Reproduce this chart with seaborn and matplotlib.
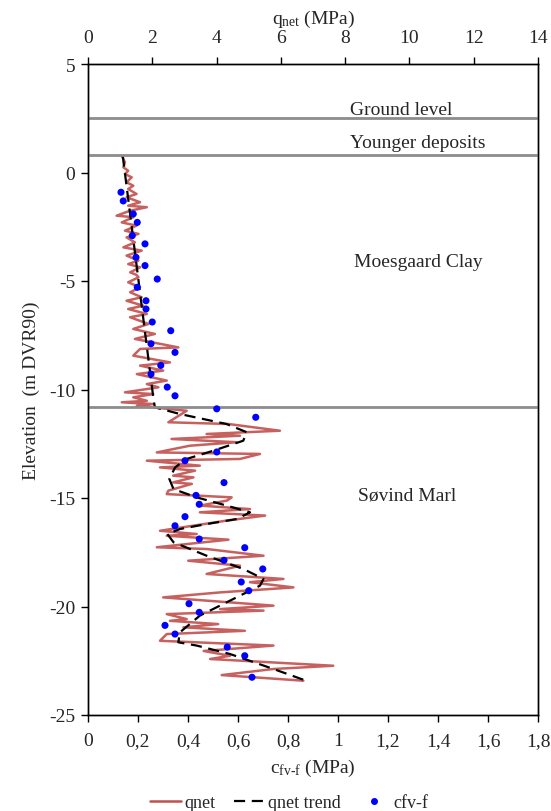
import numpy as np
import pandas as pd
import matplotlib
matplotlib.use("Agg")
import matplotlib.pyplot as plt
import seaborn as sns
from matplotlib.lines import Line2D

# ---------------- data ----------------
qnet_elev = [0.77, 0.47, 0.24, 0.08, -0.07, -0.22, -0.45, -0.61, -0.76, -0.99, -1.14, -1.37, -1.53, -1.60,
             -1.76, -1.99, -2.06, -2.30, -2.45, -2.68, -2.83, -2.99, -3.22, -3.45, -3.60, -3.83, -4.06,
             -4.22, -4.37, -4.60, -4.72, -4.83, -5.06, -5.29, -5.52, -5.75, -5.91, -6.14, -6.29, -6.52,
             -6.67, -6.98, -7.21, -7.44, -7.67, -8.06, -8.13, -8.44, -8.75, -8.90, -9.13, -9.29, -9.59,
             -9.75, -9.90, -10.13, -10.21, -10.36, -10.52, -10.59, -10.67, -10.75, -10.98, -11.51, -11.59,
             -11.90, -12.05, -12.13, -12.28, -12.43, -12.59, -12.90, -12.97, -13.20, -13.28, -13.51, -13.59,
             -13.74, -13.97, -14.05, -14.28, -14.35, -14.66, -14.82, -14.97, -15.12, -15.35, -15.51, -15.66,
             -15.81, -16.04, -16.51, -16.66, -16.74, -16.92, -17.27, -17.35, -17.66, -17.89, -18.12, -18.50,
             -18.73, -18.88, -19.12, -19.35, -19.58, -19.96, -20.12, -20.19, -20.35, -20.58, -20.66, -20.81,
             -20.96, -21.12, -21.27, -21.58, -21.80, -22.05, -22.27, -22.42, -22.73, -22.88, -23.16, -23.42]
qnet_val = [1.05, 1.15, 1.10, 1.25, 1.15, 1.36, 1.20, 1.41, 1.25, 1.51, 1.20, 1.62, 1.25, 1.83,
            1.31, 0.89, 1.41, 1.05, 1.51, 1.15, 1.57, 1.20, 1.46, 1.10, 1.67, 1.20, 1.57,
            1.25, 1.62, 1.31, 1.51, 1.57, 1.25, 1.62, 1.31, 1.67, 1.20, 1.72, 1.25, 1.83,
            1.31, 1.88, 1.41, 2.08, 1.46, 2.81, 1.62, 1.41, 2.55, 1.62, 2.34, 1.52, 2.45,
            1.83, 2.19, 1.15, 2.03, 1.41, 1.83, 1.05, 2.03, 1.52, 3.07, 2.50, 4.37,
            5.97, 3.69, 4.73, 2.60, 4.63, 3.17, 2.14, 5.35, 4.73, 1.83, 3.48, 2.24,
            3.33, 2.65, 3.28, 2.65, 3.23, 2.50, 2.45, 4.47, 4.32, 3.48, 5.04, 3.48,
            5.51, 4.32, 2.24, 3.38, 2.45, 4.37, 2.14, 3.69, 5.46, 3.12, 4.73, 3.69,
            6.08, 5.04, 6.39, 4.11, 2.34, 5.77, 4.11, 5.46, 2.45, 3.07, 2.55, 4.05,
            2.97, 4.88, 2.45, 2.24, 5.77, 3.60, 4.42, 3.80, 7.63, 5.77, 4.16, 6.70]

trend_elev = [0.78, -10.36, -10.82, -11.13, -11.59, -11.97, -12.36, -12.82, -13.20, -13.59, -14.12, -14.59,
              -14.97, -15.35, -15.66, -15.97, -16.20, -16.43, -16.66, -17.04, -17.66, -18.27, -18.73,
              -19.04, -19.81, -20.42, -21.19, -21.65, -21.80, -22.19, -22.88, -23.46]
trend_val = [1.08, 2.03, 2.08, 2.86, 4.31, 4.94, 4.83, 3.90, 3.07, 2.71, 2.53, 2.66,
             3.38, 4.31, 5.04, 4.63, 3.69, 2.86, 2.47, 2.66, 3.69, 4.83, 5.46,
             5.35, 4.31, 3.48, 2.86, 2.81, 3.38, 4.42, 5.77, 6.86]

cfv_elev = [-0.91, -1.31, -1.91, -2.30, -2.91, -3.29, -3.91, -4.29, -4.91, -5.29, -5.91, -6.29,
            -6.89, -7.29, -7.89, -8.29, -8.89, -9.29, -9.89, -10.29, -10.89, -11.28, -12.88, -13.28,
            -14.29, -14.88, -15.29, -15.86, -16.28, -16.89, -17.29, -17.87, -18.27, -18.87, -19.27,
            -19.87, -20.27, -20.87, -21.27, -21.87, -22.27, -23.26]
cfv_val = [0.132, 0.141, 0.181, 0.197, 0.177, 0.228, 0.192, 0.228, 0.277, 0.197, 0.232, 0.232,
           0.257, 0.331, 0.252, 0.348, 0.291, 0.252, 0.317, 0.348, 0.515, 0.671, 0.515, 0.388,
           0.544, 0.432, 0.445, 0.388, 0.348, 0.445, 0.627, 0.544, 0.699, 0.613, 0.643,
           0.404, 0.445, 0.308, 0.348, 0.557, 0.627, 0.656]

layer_bounds = [2.5, 0.8, -10.8]
layer_names = ["Ground level", "Younger deposits", "Moesgaard Clay", "Søvind Marl"]
layer_label_pos = [(1.048, 2.92), (1.048, 1.36), (1.064, -4.1), (1.08, -14.85)]

bottom_ticks = [0, 0.2, 0.4, 0.6, 0.8, 1.0, 1.2, 1.4, 1.6, 1.8]
bottom_ticklabels = ["0", "0,2", "0,4", "0,6", "0,8", "1", "1,2", "1,4", "1,6", "1,8"]
top_ticks = [0, 2, 4, 6, 8, 10, 12, 14]
y_ticks = [-25, -20, -15, -10, -5, 0, 5]

# ---------------- style ----------------
sns.set_theme(style="white")
plt.rcParams["font.family"] = ["Liberation Serif", "DejaVu Serif"]
plt.rcParams["mathtext.fontset"] = "custom"
plt.rcParams["mathtext.rm"] = "Liberation Serif"
plt.rcParams["mathtext.it"] = "Liberation Serif:italic"
FS = 14

fig = plt.figure(figsize=(5.51, 8.12), dpi=100)
ax = fig.add_axes([88 / 551, 1 - 716 / 812, 450 / 551, 651 / 812])
ax2 = ax.twiny()

red = "#C0504D"
qdf = pd.DataFrame({"elev": qnet_elev, "q": qnet_val})
tdf = pd.DataFrame({"elev": trend_elev, "q": trend_val})
cdf = pd.DataFrame({"elev": cfv_elev, "c": cfv_val})

for yb in layer_bounds:
    ax.axhline(yb, color="#8C8C8C", lw=2, zorder=1)

sns.lineplot(data=qdf, x="q", y="elev", sort=False, estimator=None, ax=ax2,
             color=red, lw=1.8, alpha=0.9, zorder=2)
sns.lineplot(data=tdf, x="q", y="elev", sort=False, estimator=None, ax=ax2,
             color="black", lw=1.6, zorder=3)
ax2.lines[-1].set_dashes([5, 3])
sns.scatterplot(data=cdf, x="c", y="elev", ax=ax, color="#0000FF", s=26,
                edgecolor="none", zorder=4)
ax.set_zorder(ax2.get_zorder() + 1)
ax.patch.set_visible(False)

ax.set_xlim(0, 1.8)
ax.set_ylim(-25, 5)
ax2.set_xlim(0, 14)
ax2.set_ylim(-25, 5)

ax.set_xticks(bottom_ticks)
ax.set_xticklabels(bottom_ticklabels, fontsize=FS)
ax.set_yticks(y_ticks)
ax.set_yticklabels([str(t) for t in y_ticks], fontsize=FS)
ax2.set_xticks(top_ticks)
ax2.set_xticklabels([str(t) for t in top_ticks], fontsize=FS)

for a in (ax, ax2):
    a.tick_params(direction="out", length=5, width=1, color="black", pad=4)
    for s in a.spines.values():
        s.set_color("black")
        s.set_linewidth(1)
ax.tick_params(axis="x", bottom=True, top=False, pad=7)
ax.tick_params(axis="y", left=True, right=False)
ax2.tick_params(axis="x", top=True, bottom=False, pad=8)

ax.set_xlabel(r"c$_{\mathrm{fv\text{-}f}}$ (MPa)", fontsize=FS, labelpad=6)
ax.set_ylabel("Elevation  (m DVR90)", fontsize=FS, labelpad=7)
ax2.set_xlabel(r"q$_{\mathrm{net}}$ (MPa)", fontsize=FS, labelpad=4)

for name, (xp, yp) in zip(layer_names, layer_label_pos):
    ax.text(xp, yp, name, fontsize=FS, ha="left", va="center", zorder=5)

handles = [Line2D([], [], color=red, lw=1.8),
           Line2D([], [], color="black", lw=1.6, dashes=[5, 3]),
           Line2D([], [], color="#0000FF", marker="o", ls="none", markersize=4)]
fig.legend(handles, ["qnet", "qnet trend", "cfv-f"], loc="lower center",
           bbox_to_anchor=(0.525, -0.02), ncol=3, frameon=False, fontsize=13,
           handlelength=1.7, columnspacing=1.0, handletextpad=0.2)

fig.savefig("out.png", dpi=100)
